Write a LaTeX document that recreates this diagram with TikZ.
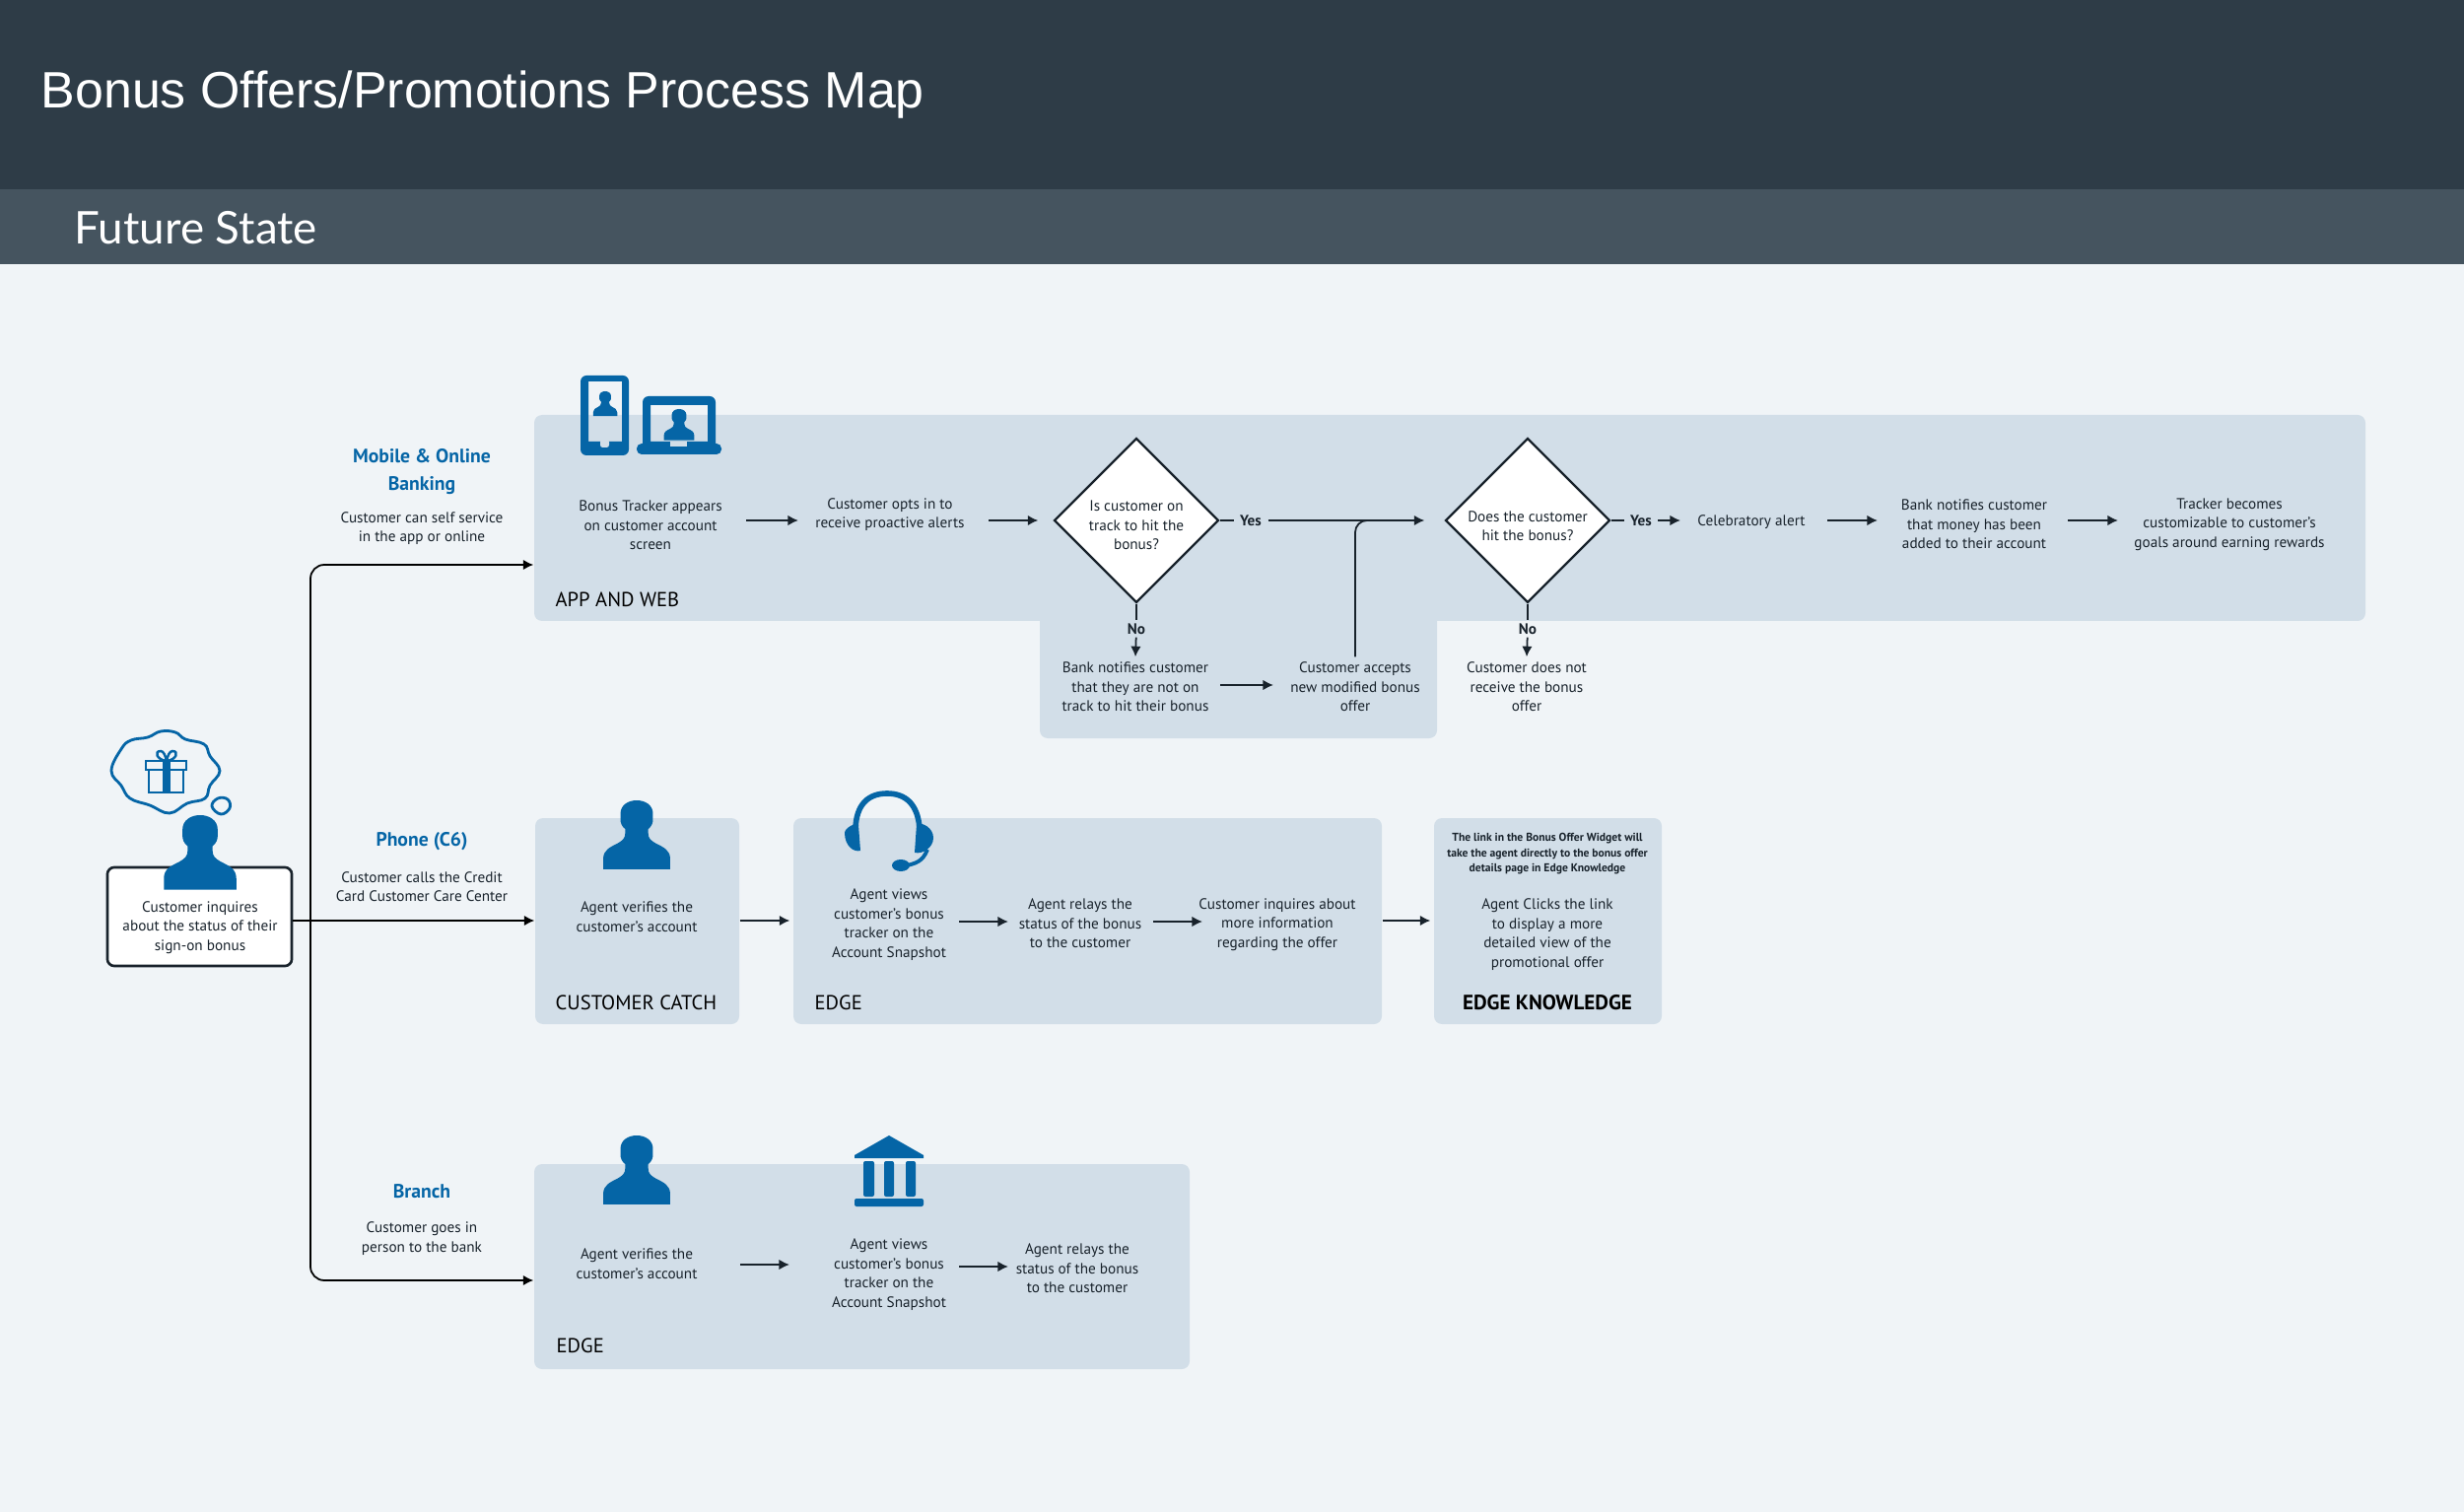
\documentclass[tikz,border=0pt]{standalone}
\usepackage{fontspec}
\setmainfont{PT Sans}
\newfontfamily\titlefont{Liberation Sans}
\newfontfamily\subfont{Lato}
\usepackage{xcolor}
\usetikzlibrary{arrows.meta,positioning,calc,shapes.geometric,fit}
\definecolor{ink}{HTML}{18222B}
\definecolor{slate}{HTML}{2E3C47}
\definecolor{band}{HTML}{45545F}
\definecolor{paper}{HTML}{F0F4F7}
\definecolor{pane}{HTML}{D2DEE8}
\definecolor{brand}{HTML}{0565A6}
\newcommand{\bodysize}{\fontsize{4.33}{5.55}\selectfont}
\tikzset{
  panel/.style={fill=pane,rounded corners=0.8mm,inner sep=0pt,fit={#1}},
  steptext/.style={font=\bodysize,text=ink,align=center,inner xsep=0.1cm,inner ysep=0.05cm},
  dia/.style={shape=diamond,aspect=1,draw=ink,fill=white,line width=0.65pt,minimum width=1.67cm,minimum height=1.67cm,inner sep=0pt},
  syslabel/.style={font=\fontsize{5.85}{7}\selectfont,text=black,inner sep=0pt},
  lanehead/.style={font=\fontsize{5.6}{7.9}\selectfont\bfseries,text=brand,align=center,inner sep=0pt},
  lanenote/.style={font=\bodysize,text=ink,align=center,inner sep=0pt},
  answer/.style={font=\bodysize\bfseries,text=ink,inner xsep=0.06cm,inner ysep=0.025cm},
  flow/.style={-{Latex[length=3pt,width=3pt]},draw=ink,line width=0.5pt},
  wire/.style={draw=ink,line width=0.5pt},
  trunk/.style={-{Latex[length=3pt,width=3pt]},draw=black,line width=0.5pt,rounded corners=1.4mm},
  pics/person/.style={code={
    \fill[brand] (-35,72) -- (-35,61) .. controls (-35,52) and (-28,49) .. (-20,45)
      .. controls (-15,42) and (-12,40) .. (-12,34) -- (-12,30)
      .. controls (-16,27) and (-17,23) .. (-17,20) -- (-17,14)
      .. controls (-17,5) and (-9,0) .. (0,0)
      .. controls (9,0) and (17,5) .. (17,14) -- (17,20)
      .. controls (17,23) and (16,27) .. (12,30) -- (12,34)
      .. controls (12,40) and (15,42) .. (20,45)
      .. controls (28,49) and (35,52) .. (35,61) -- (35,72) -- cycle;
  }}
}
\begin{document}
\begin{tikzpicture}[x=0.01cm,y=-0.01cm]
\useasboundingbox (0,0) rectangle (2500,1534);
\fill[paper] (0,0) rectangle (2500,1534);
\fill[slate] (0,0) rectangle (2500,192);
\fill[band] (0,192) rectangle (2500,268);
\node[anchor=west,inner sep=0pt,text=white,font=\titlefont\fontsize{14.76}{18}\selectfont] (title) at (41,96) {Bonus Offers/Promotions Process Map};
\node[anchor=west,inner sep=0pt,text=white,font=\subfont\fontsize{13}{15}\selectfont] (substate) at (75,231) {Future State};

% panels
\node[panel={(1055,600) (1458,749)}] (notrack) {};
\node[panel={(542,421) (2400,630)}] (appweb) {};
\node[panel={(543,830) (750,1039)}] (catch) {};
\node[panel={(805,830) (1402,1039)}] (edge) {};
\node[panel={(1455,830) (1686,1039)}] (knowledge) {};
\node[panel={(542,1181) (1207,1389)}] (branchedge) {};

\node[syslabel,anchor=west] (lblapp) at (563,608) {APP AND WEB};
\node[syslabel,anchor=west] (lblcatch) at (563,1017) {CUSTOMER CATCH};
\node[syslabel,anchor=west] (lbledge) at (826,1017) {EDGE};
\node[syslabel,font=\fontsize{6}{7}\selectfont\bfseries] (lblknow) at (1570,1017) {EDGE KNOWLEDGE};
\node[syslabel,anchor=west] (lblbranch) at (564,1365) {EDGE};

% customer
\node[draw=ink,line width=0.75pt,fill=white,rounded corners=0.7mm,minimum width=1.87cm,minimum height=1cm,inner sep=0pt] (custbox) at (202.5,930) {};
\node[steptext] (custtxt) at (203,941) {Customer inquires\\about the status of their\\sign-on bonus};
\pic[scale=1.05] at (203,827) {person};
\draw[brand,line width=0.8pt] plot[smooth cycle,tension=0.7] coordinates {(113,782) (123,760) (133,751) (150,748) (163,742) (178,743) (188,750) (207,755) (213,767) (223,782) (213,797) (208,810) (190,815) (172,825) (152,817) (132,810) (123,797)};
\draw[brand,line width=0.8pt] plot[smooth cycle,tension=0.7] coordinates {(215,818) (221,810) (231,811) (233,820) (224,826)};
% gift
\draw[brand,line width=0.75pt] (151,781) rectangle (186,804);
\draw[brand,line width=0.75pt] (148,772) rectangle (189,781);
\fill[brand] (165,772) rectangle (173,805);
\draw[brand,line width=0.7pt] (169,772) .. controls (159,771) and (156,762) .. (163,762) .. controls (166,762) and (168,767) .. (169,772)
  .. controls (170,767) and (172,762) .. (175,762) .. controls (182,762) and (179,771) .. (169,772);

% lanes
\node[lanehead] (mobile) at (428,478.5) {Mobile \& Online\\Banking};
\node[lanenote] (mobilenote) at (428,536) {Customer can self service\\in the app or online};
\node[lanehead] (phone) at (428,853.5) {Phone (C6)};
\node[lanenote] (phonenote) at (428,899.5) {Customer calls the Credit\\Card Customer Care Center};
\node[lanehead] (branch) at (428,1209) {Branch};
\node[lanenote] (branchnote) at (428,1256.5) {Customer goes in\\person to the bank};

\coordinate (bus) at (315,934);
\coordinate (mobilein) at (315,573);
\coordinate (branchin) at (315,1299);
\draw[trunk,-] (custbox.east |- bus) -- (bus);
\draw[trunk] (bus) -- (catch.west |- bus);
\draw[trunk] (bus) |- (appweb.west |- mobilein);
\draw[trunk] (bus) |- (branchedge.west |- branchin);

% app and web
\fill[brand,even odd rule] [rounded corners=0.6mm] (589,381) rectangle (638,462) [sharp corners] (597,387) rectangle (631,448);
\fill[pane,rounded corners=0.25mm] (609,446) rectangle (618,454);
\pic[scale=0.35] at (614,397) {person};
\fill[brand,even odd rule] [rounded corners=0.6mm] (652,402) rectangle (726,456) [sharp corners] (660,411) rectangle (718,448);
\fill[brand,rounded corners=0.5mm] (646,450) rectangle (732,461);
\fill[pane] (680,448) rectangle (697,453);
\pic[scale=0.44] at (689,415) {person};

\node[steptext] (tracker) at (660,533) {Bonus Tracker appears\\on customer account\\screen};
\node[steptext] (optin) at (903,522) {Customer opts in to\\receive proactive alerts};
\node[dia] (ontrack) at (1153,528) {};
\node[steptext] (ontracktxt) at (1153,533) {Is customer on\\track to hit the\\bonus?};
\node[answer] (yesa) at (1269,528) {Yes};
\node[dia] (hitbonus) at (1550,528) {};
\node[steptext] (hitbonustxt) at (1550,533.5) {Does the customer\\hit the bonus?};
\node[answer] (yesb) at (1665,528) {Yes};
\node[steptext] (celebrate) at (1777,530) {Celebratory alert};
\node[steptext] (added) at (2003,532) {Bank notifies customer\\that money has been\\added to their account};
\node[steptext] (custom) at (2262,532) {Tracker becomes\\customizable to customer's\\goals around earning rewards};
\node[answer] (noa) at (1153,638) {No};
\node[answer] (nob) at (1550,638) {No};
\node[steptext] (nottrack) at (1152,697) {Bank notifies customer\\that they are not on\\track to hit their bonus};
\node[steptext] (accepts) at (1375,697) {Customer accepts\\new modified bonus\\offer};
\node[steptext] (nobonus) at (1549,697) {Customer does not\\receive the bonus\\offer};

\draw[flow,shorten <=0.97cm,shorten >=0.93cm] (tracker.center |- ontrack) -- (optin.center |- ontrack);
\draw[flow,shorten <=1cm,shorten >=0.15cm] (optin.center |- ontrack) -- (ontrack.west);
\draw[wire] (ontrack) -- (yesa);
\draw[flow,shorten >=0.2cm] (yesa) -- (hitbonus.west);
\draw[wire,rounded corners=1.2mm,shorten >=0.5cm] (accepts.north) |- (hitbonus.west);
\draw[wire] (hitbonus) -- (yesb);
\draw[flow,shorten <=0.17cm,shorten >=0.72cm] (yesb.center) -- (celebrate.center |- yesb);
\draw[flow,shorten <=0.77cm,shorten >=0.98cm] (celebrate.center |- ontrack) -- (added.center |- ontrack);
\draw[flow,shorten <=0.95cm,shorten >=1.13cm] (added.center |- ontrack) -- (custom.center |- ontrack);
\draw[wire] (ontrack) -- (noa);
\draw[flow] (noa) -- (nottrack.north);
\draw[wire] (hitbonus) -- (nob);
\draw[flow] (nob) -- (nobonus.north);
\draw[flow,shorten <=0.86cm,shorten >=0.83cm] (nottrack.center |- 0,695) -- (accepts.center |- 0,695);

% customer catch
\pic[scale=0.97] at (646,812) {person};
\node[steptext] (verify) at (646,930) {Agent verifies the\\customer's account};
\draw[flow,shorten >=0.03cm] (catch.east |- bus) -- (edge.west |- bus);

% edge
\fill[brand] (857,845) .. controls (857,840) and (868,834) .. (871,837) -- (873,863) .. controls (866,865) and (857,858) .. (857,845) -- cycle;
\fill[brand] (947,850) .. controls (947,840) and (936,834) .. (930,836) -- (928,865) .. controls (936,867) and (947,860) .. (947,850) -- cycle;
\draw[brand,line width=1.6pt] (868,840) .. controls (869,816) and (881,805) .. (900,805) .. controls (919,805) and (931,816) .. (933,840);
\draw[brand,line width=1.1pt] (941,862) .. controls (936,874) and (930,876) .. (916,879);
\fill[brand] (914,878) ellipse (9 and 6);
\node[steptext] (views) at (902,938) {Agent views\\customer's bonus\\tracker on the\\Account Snapshot};
\node[steptext] (relays) at (1096,937) {Agent relays the\\status of the bonus\\to the customer};
\node[steptext] (inquires) at (1296,938) {Customer inquires about\\more information\\regarding the offer};
\draw[flow,shorten <=0.71cm,shorten >=0.73cm] (views.center |- 0,935) -- (relays.center |- 0,935);
\draw[flow,shorten <=0.74cm,shorten >=0.76cm] (relays.center |- 0,935) -- (inquires.center |- 0,935);
\draw[flow,shorten >=0.03cm] (edge.east |- bus) -- (knowledge.west |- bus);

% edge knowledge
\node[font=\fontsize{3.3}{4.4}\selectfont\bfseries,text=ink,align=center,inner sep=0pt] (widget) at (1570,866.5)
  {The link in the Bonus Offer Widget will\\take the agent directly to the bonus offer\\details page in Edge Knowledge};
\node[steptext] (clicks) at (1570,948) {Agent Clicks the link\\to display a more\\detailed view of the\\promotional offer};

% branch
\pic[scale=0.97] at (646,1152) {person};
\fill[brand] (902,1152) -- (937,1172) -- (937,1175) -- (867,1175) -- (867,1172) -- cycle;
\fill[brand,rounded corners=0.2mm] (876,1178) rectangle (887,1214);
\fill[brand,rounded corners=0.2mm] (897,1178) rectangle (907,1214);
\fill[brand,rounded corners=0.2mm] (919,1178) rectangle (929,1214);
\fill[brand,rounded corners=0.2mm] (867,1216) rectangle (937,1224);
\node[steptext] (verifyb) at (646,1282) {Agent verifies the\\customer's account};
\node[steptext] (viewsb) at (902,1293) {Agent views\\customer's bonus\\tracker on the\\Account Snapshot};
\node[steptext] (relaysb) at (1093,1287) {Agent relays the\\status of the bonus\\to the customer};
\draw[flow,shorten <=1.05cm,shorten >=1.01cm] (verifyb.center |- 0,1283) -- (viewsb.center |- 0,1283);
\draw[flow,shorten <=0.71cm,shorten >=0.7cm] (viewsb.center |- 0,1285) -- (relaysb.center |- 0,1285);
\end{tikzpicture}
\end{document}
